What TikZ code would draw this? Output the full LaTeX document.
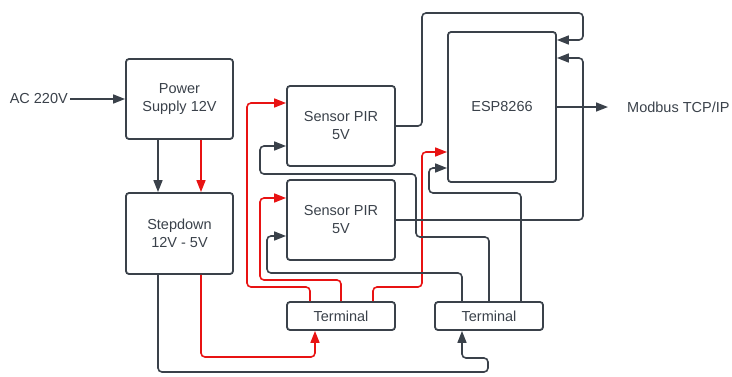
\documentclass[tikz,border=0pt]{standalone}
\usepackage{fontspec}
\setmainfont{Liberation Sans}
\usetikzlibrary{arrows.meta,positioning}

\definecolor{ink}{RGB}{58,65,74}
\definecolor{wire}{RGB}{232,19,19}

\begin{document}
\begin{tikzpicture}[
x=1pt, y=-1pt,
block/.style={
draw=ink,
line width=1.8pt,
rounded corners=3pt,
align=center,
text=ink,
minimum width=107pt,
minimum height=80pt,
font=\fontsize{14.5}{18}\selectfont
},
lbl/.style={text=ink, inner sep=2pt, font=\fontsize{14.5}{18}\selectfont},
line/.style={-{Triangle[length=12pt,width=9pt]}, line width=1.6pt, draw=ink, rounded corners=4pt},
redline/.style={line, draw=wire}
]
\useasboundingbox (0,0) rectangle (732,376);

\node[block] (psu) at (179.5,99) {Power\\Supply 12V};

\node[block, minimum height=81pt] (buck) at (179.5,233.5)
{Stepdown\\12V - 5V};

\node[block, minimum width=108pt] (pirA) at (341,126)
{Sensor PIR\\5V};

\node[block, minimum width=108pt] (pirB) at (341,220)
{Sensor PIR\\5V};

\node[block, minimum width=108pt, minimum height=150pt] (esp) at (502,107)
{ESP8266};

\node[block, minimum width=108pt, minimum height=28pt] (termA) at (341,316)
{Terminal};

\node[block, minimum width=108pt, minimum height=28pt] (termB) at (489,316)
{Terminal};

\node[lbl, anchor=east] (ac) at (70,99) {AC 220V};
\node[lbl, anchor=west] (modbus) at (625,107) {Modbus TCP/IP};
\coordinate (mb) at (608,107);

% arrows
\draw[line] (ac) -- (psu);
\draw[line] (158,0 |- psu.south) -- (158,0 |- buck.north);
\draw[redline] (201,0 |- psu.south) -- (201,0 |- buck.north);

\draw[line] (158,0 |- buck.south) |- (488,372) |- (462,358) -- (462,0 |- termB.south);
\draw[redline] (201,0 |- buck.south) |- (315,357) -- (315,0 |- termA.south);

% terminal to sensors
\draw[redline] (310,0 |- termA.north) |- (247,287) |- (pirA.west |- 0,103);
\draw[redline] (termA.north) |- (260,280) |- (pirB.west |- 0,198);
\draw[redline] (373,0 |- termA.north) |- (422,287) |- (esp.west |- 0,152);

\draw[line] (462,0 |- termB.north) |- (267,273) |- (pirB.west |- 0,236);
\draw[line] (termB.north) |- (416,237) |- (260,174) |- (pirA.west |- 0,146);
\draw[line] (521,0 |- termB.north) |- (429,193) |- (esp.west |- 0,168);

% sensors to esp
\draw[line] (pirA.east) -| (422,13) -| (583,40) -- (esp.east |- 0,40);
\draw[line] (pirB.east) -| (583,58) -- (esp.east |- 0,58);
\draw[line] (esp.east) -- (mb);

\end{tikzpicture}
\end{document}
